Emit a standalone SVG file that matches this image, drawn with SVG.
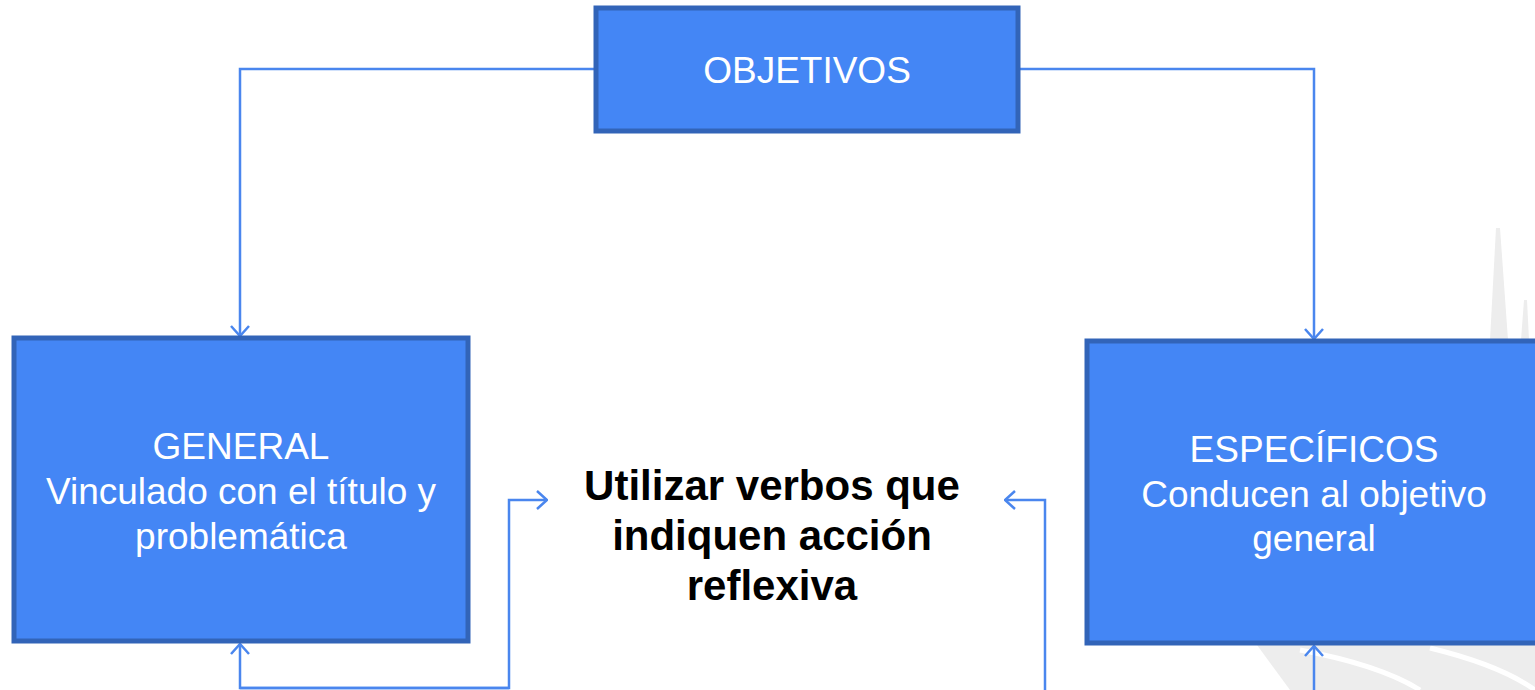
<svg xmlns="http://www.w3.org/2000/svg" width="1535" height="690" viewBox="0 0 1535 690">
<defs>
<style>
.box{fill:#4486f5;stroke:#3264b8;stroke-width:5}
.wt{fill:#ffffff;font-family:"Liberation Sans",Arial,sans-serif;font-size:37px;text-anchor:middle}
.bt{fill:#000000;font-family:"Liberation Sans",Arial,sans-serif;font-size:42px;font-weight:bold;text-anchor:middle}
.conn{fill:none;stroke:#4a86ee;stroke-width:2.5}
.wm{fill:#ededed}
</style>
<marker id="arr" viewBox="0 0 12 20" refX="11" refY="10" markerWidth="12" markerHeight="20" markerUnits="userSpaceOnUse" orient="auto">
<path d="M1,1 L11,10 L1,19" fill="none" stroke="#4a86ee" stroke-width="2.5"/>
</marker>
</defs>
<rect width="1535" height="690" fill="#ffffff"/>
<g id="watermark">
<path class="wm" d="M1490,340 L1496,228 L1500,228 L1508,340 Z"/>
<path class="wm" d="M1521,340 L1524,300 L1527,300 L1529,340 Z"/>
<path class="wm" d="M1257,645 L1535,645 L1535,690 L1290,690 Z"/>
<path d="M1300,650 Q1380,665 1420,690" fill="none" stroke="#ffffff" stroke-width="5"/>
<path d="M1430,648 Q1500,665 1535,690" fill="none" stroke="#ffffff" stroke-width="5"/>
</g>
<g id="connectors">
<path class="conn" d="M596,69 L240,69 L240,336" marker-end="url(#arr)"/>
<path class="conn" d="M1018,69 L1314,69 L1314,339" marker-end="url(#arr)"/>
<path class="conn" d="M509,688 L240,688 L240,644" marker-end="url(#arr)"/>
<path class="conn" d="M240,688 L509,688 L509,500 L547,500" marker-end="url(#arr)"/>
<path class="conn" d="M1045,690 L1045,500 L1005,500" marker-end="url(#arr)"/>
<path class="conn" d="M1314,690 L1314,646" marker-end="url(#arr)"/>
</g>
<g id="objetivos">
<rect class="box" x="596" y="8" width="422" height="123"/>
<text class="wt" x="807" y="83">OBJETIVOS</text>
</g>
<g id="general">
<rect class="box" x="14" y="338" width="454" height="303"/>
<text class="wt" x="241" y="459">GENERAL</text>
<text class="wt" x="241" y="504">Vinculado con el título y</text>
<text class="wt" x="241" y="549">problemática</text>
</g>
<g id="especificos">
<rect class="box" x="1087" y="341" width="460" height="302"/>
<text class="wt" x="1314" y="462">ESPECÍFICOS</text>
<text class="wt" x="1314" y="507">Conducen al objetivo</text>
<text class="wt" x="1314" y="551">general</text>
</g>
<g id="accion">
<text class="bt" x="772" y="500">Utilizar verbos que</text>
<text class="bt" x="772" y="550">indiquen acción</text>
<text class="bt" x="772" y="600">reflexiva</text>
</g>
</svg>
